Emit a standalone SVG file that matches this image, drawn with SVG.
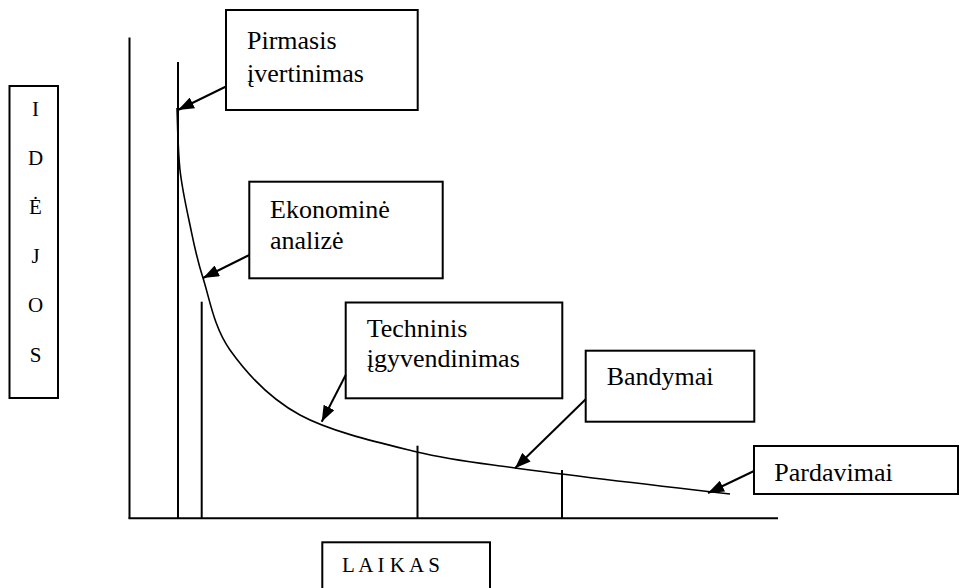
<svg xmlns="http://www.w3.org/2000/svg" width="959" height="588" viewBox="0 0 959 588">
  <style>
    .box { fill: #ffffff; stroke: #000000; stroke-width: 2; }
    .axis { stroke: #000000; stroke-width: 2; fill: none; }
    .curve { stroke: #000000; stroke-width: 1.6; fill: none; }
    .conn { stroke: #000000; stroke-width: 2; fill: none; marker-end: url(#head); }
  </style>
  <defs>
    <marker id="head" viewBox="0 0 16 12" refX="16" refY="6" markerWidth="16" markerHeight="12" markerUnits="userSpaceOnUse" orient="auto">
      <path d="M0,0 L16,6 L0,12 Z" fill="#000000"/>
    </marker>
  </defs>
  <rect width="959" height="588" fill="#ffffff"/>

  <!-- axes and stage markers -->
  <g id="axes">
    <line class="axis" x1="129.5" y1="37.5" x2="129.5" y2="518.5"/>
    <line class="axis" x1="128.5" y1="518.3" x2="778" y2="518.3"/>
    <line class="axis" x1="178" y1="62" x2="178" y2="518"/>
    <line class="axis" x1="201.7" y1="301.7" x2="201.7" y2="518"/>
    <line class="axis" x1="417.5" y1="445.7" x2="417.5" y2="518"/>
    <line class="axis" x1="562" y1="470" x2="562" y2="518"/>
  </g>

  <!-- decay curve of the number of ideas -->
  <g id="curve">
    <path class="curve" d="M177,108 C177.5,118.3 177.8,150.5 180,170 C182.2,189.5 186.2,207 190,225 C193.8,243 196.3,257.2 203,278 C209.7,298.8 213.8,327.2 230,350 C246.2,372.8 268.8,398 300,415 C331.2,432 381.2,443.2 417,452 C452.8,460.8 490.8,464.3 515,468 C567,475 660,486 730,494"/>
  </g>

  <g font-family="Liberation Serif, Times New Roman, DejaVu Serif, serif" fill="#000000">
    <g id="ideos">
      <rect class="box" x="9.5" y="86" width="48.5" height="312"/>
      <g font-size="21" text-anchor="middle">
        <text x="35.5" y="115.5">I</text>
        <text x="35.5" y="164.7">D</text>
        <text x="35.5" y="213.9">Ė</text>
        <text x="35.5" y="263.1">J</text>
        <text x="35.5" y="312.3">O</text>
        <text x="35.5" y="361.5">S</text>
      </g>
    </g>

    <g id="laikas">
      <rect class="box" x="322.3" y="542.3" width="167.7" height="60"/>
      <text font-size="21" x="342" y="572.3">L A I K A S</text>
    </g>

    <g id="pirmasis" font-size="26">
      <rect class="box" x="226" y="10" width="191.7" height="100"/>
      <text x="247" y="49">Pirmasis</text>
      <text x="247" y="81.5">įvertinimas</text>
    </g>

    <g id="ekonomine" font-size="26">
      <rect class="box" x="249.3" y="181.7" width="193.4" height="96.6"/>
      <text x="270" y="218.3">Ekonominė</text>
      <text x="270" y="249">analizė</text>
    </g>

    <g id="techninis" font-size="26">
      <rect class="box" x="345.7" y="302.5" width="216.6" height="95.8"/>
      <text x="366.7" y="336.7">Techninis</text>
      <text x="366.7" y="366.7">įgyvendinimas</text>
    </g>

    <g id="bandymai" font-size="26">
      <rect class="box" x="585.7" y="350.7" width="168.6" height="71"/>
      <text x="606.7" y="385">Bandymai</text>
    </g>

    <g id="pardavimai" font-size="26">
      <rect class="box" x="754" y="446" width="204" height="48"/>
      <text x="774.3" y="481">Pardavimai</text>
    </g>
  </g>

  <!-- connectors from labels to the curve -->
  <g id="connectors">
    <line class="conn" x1="226" y1="86.5" x2="178" y2="110"/>
    <line class="conn" x1="249.3" y1="255" x2="203" y2="278"/>
    <line class="conn" x1="345.7" y1="375" x2="321.7" y2="421.7"/>
    <line class="conn" x1="585.7" y1="399.3" x2="515" y2="468.3"/>
    <line class="conn" x1="754" y1="471" x2="708" y2="493"/>
  </g>
</svg>
